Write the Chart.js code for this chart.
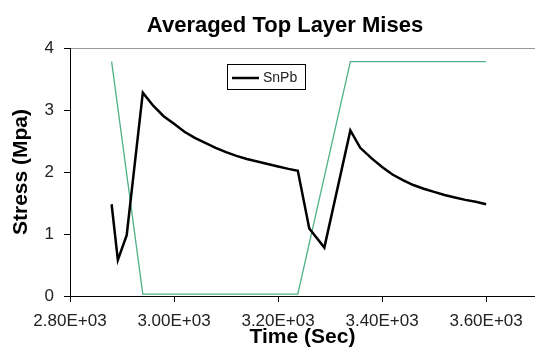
<!DOCTYPE html>
<html>
<head>
<meta charset="utf-8">
<script src="https://cdn.jsdelivr.net/npm/chart.js@4.4.0/dist/chart.umd.min.js"></script>
<style>
  html, body { margin: 0; padding: 0; background: #fff; }
  #wrap { position: relative; width: 535px; height: 348px; }
</style>
</head>
<body>
<div id="wrap"><canvas id="misesChart"></canvas></div>
<script>
// Averaged top layer Mises stress (SnPb) vs time
const chartTitle = 'Averaged Top Layer Mises';
const xTitle = 'Time (Sec)';
const yTitle = 'Stress (Mpa)';

const snpbTime = [2880, 2892, 2909, 2940, 2960, 2980, 3000, 3020, 3040, 3060, 3080, 3100, 3120, 3140, 3160, 3180, 3200, 3220, 3238, 3260, 3289, 3339, 3358, 3380, 3400, 3420, 3440, 3460, 3480, 3500, 3520, 3540, 3560, 3580, 3600];
const snpbStress = [1.48, 0.58, 0.98, 3.28, 3.07, 2.90, 2.78, 2.65, 2.55, 2.47, 2.39, 2.32, 2.26, 2.21, 2.17, 2.13, 2.09, 2.05, 2.02, 1.09, 0.78, 2.67, 2.39, 2.22, 2.08, 1.96, 1.87, 1.79, 1.73, 1.68, 1.63, 1.59, 1.55, 1.52, 1.48];

// green reference profile (no legend entry)
const profileTime = [2880, 2940, 3238, 3339, 3600];
const profileValue = [3.78, 0.03, 0.03, 3.78, 3.78];

const xTicks = [2800, 3000, 3200, 3400, 3600];
const yTicks = [0, 1, 2, 3, 4];

const FONT = "'Liberation Sans', Arial, sans-serif";

function sciLabel(v) {
    const e = Math.floor(Math.log10(v));
    const m = v / Math.pow(10, e);
    return m.toFixed(2) + 'E+' + String(e).padStart(2, '0');
}

// title + legend box drawn on top
const extrasPlugin = {
    id: 'extras',
    afterDraw(chart) {
        const ctx = chart.ctx;
        ctx.save();
        ctx.fillStyle = '#000';
        ctx.font = 'bold 22px ' + FONT;
        ctx.textAlign = 'center';
        ctx.textBaseline = 'alphabetic';
        ctx.fillText(chartTitle, 285, 32);

        // legend
        ctx.fillStyle = '#fff';
        ctx.fillRect(227, 64.5, 78, 25);
        ctx.strokeStyle = '#000';
        ctx.lineWidth = 1;
        ctx.strokeRect(227.5, 64.5, 78, 25);
        ctx.beginPath();
        ctx.lineWidth = 2.5;
        ctx.moveTo(232, 78);
        ctx.lineTo(259, 78);
        ctx.stroke();
        ctx.fillStyle = '#222';
        ctx.font = '14px ' + FONT;
        ctx.textAlign = 'left';
        ctx.textBaseline = 'middle';
        ctx.fillText('SnPb', 263, 78);
        ctx.restore();
    }
};

const ctx = document.getElementById('misesChart').getContext('2d');

new Chart(ctx, {
    type: 'line',
    data: {
        datasets: [
            {
                label: 'SnPb',
                data: snpbTime.map((t, i) => ({ x: t, y: snpbStress[i] })),
                borderColor: '#000',
                borderWidth: 2.5,
                pointRadius: 0,
                tension: 0,
                fill: false
            },
            {
                label: 'profile',
                data: profileTime.map((t, i) => ({ x: t, y: profileValue[i] })),
                borderColor: '#4fb185',
                borderWidth: 1.3,
                pointRadius: 0,
                tension: 0,
                fill: false
            }
        ]
    },
    options: {
        responsive: true,
        maintainAspectRatio: false,
        animation: false,
        layout: {
            padding: { top: 48, left: 0, right: 0, bottom: 0 }
        },
        plugins: {
            legend: { display: false },
            title: { display: false },
            tooltip: { enabled: false }
        },
        scales: {
            x: {
                type: 'linear',
                min: 2800,
                max: 3694,
                afterBuildTicks: (scale) => {
                    scale.ticks = xTicks.map(v => ({ value: v }));
                },
                afterFit: (scale) => { scale.height = 52; },
                border: { display: true, color: '#000', width: 1 },
                grid: {
                    drawOnChartArea: false,
                    drawTicks: true,
                    tickLength: 6,
                    tickColor: '#000'
                },
                ticks: {
                    autoSkip: false,
                    maxRotation: 0,
                    padding: 9,
                    color: '#222',
                    font: { size: 17, family: FONT },
                    callback: (value) => sciLabel(value)
                },
                title: {
                    display: true,
                    text: xTitle,
                    color: '#000',
                    font: { size: 21, weight: 'bold', family: FONT, lineHeight: 1.0 },
                    padding: { top: 0, bottom: 0 }
                }
            },
            y: {
                min: 0,
                max: 4,
                afterBuildTicks: (scale) => {
                    scale.ticks = yTicks.map(v => ({ value: v }));
                },
                afterFit: (scale) => { scale.width = 70; },
                border: { display: true, color: '#000', width: 1 },
                grid: {
                    drawOnChartArea: true,
                    color: (c) => (c.tick && c.tick.value === 4 ? '#999' : 'rgba(0,0,0,0)'),
                    drawTicks: true,
                    tickLength: 6,
                    tickColor: '#000'
                },
                ticks: {
                    padding: 10,
                    color: '#222',
                    font: { size: 17, family: FONT }
                },
                title: {
                    display: true,
                    text: yTitle,
                    color: '#000',
                    font: { size: 21, weight: 'bold', family: FONT, lineHeight: 1.2 },
                    padding: { top: 9, bottom: 0 }
                }
            }
        }
    },
    plugins: [extrasPlugin]
});
</script>
</body>
</html>
